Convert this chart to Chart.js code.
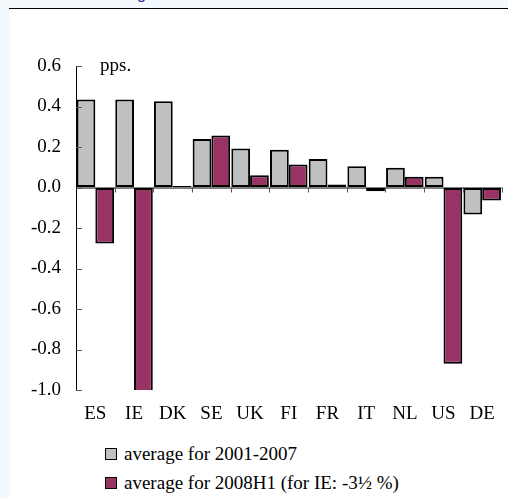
<!DOCTYPE html>
<html>
<head>
<meta charset="utf-8">
<script src="https://cdn.jsdelivr.net/npm/chart.js@4/dist/chart.umd.min.js"></script>
<style>
  html, body { margin: 0; padding: 0; }
  body { width: 508px; height: 498px; background: #f4f9fe; position: relative; overflow: hidden; }
  #topline { position: absolute; left: 9px; top: 8px; width: 499px; height: 1px; background: #000; }
  #frag { position: absolute; left: 137px; top: -15px; font: 16px "Liberation Sans", sans-serif; color: #33339a; }
  #panel { position: absolute; left: 10px; top: 9px; width: 498px; height: 489px; background: #fff; }
  #wrap { position: absolute; left: 0; top: 0; width: 498px; height: 420px; }
  #legend { position: absolute; left: 95px; top: 430px; font: 19px "Liberation Serif", serif; color: #000; }
  #legend div { height: 29px; display: flex; align-items: center; }
  #legend span.sw { display: inline-block; width: 10px; height: 10px; border: 1px solid #000; margin-right: 7px; }
</style>
</head>
<body>
<div id="frag">g</div>
<div id="topline"></div>
<div id="panel">
  <div id="wrap"><canvas id="c"></canvas></div>
  <div id="legend"></div>
</div>
<script>
const categories = ['ES','IE','DK','SE','UK','FI','FR','IT','NL','US','DE']
const avg2001_2007 = [0.434, 0.434, 0.426, 0.239, 0.193, 0.187, 0.141, 0.105, 0.097, 0.053, -0.133]
const avg2008H1    = [-0.277, -3.5, 0.008, 0.257, 0.060, 0.113, 0.015, -0.018, 0.053, -0.870, -0.064]
const yTicks = [0.6, 0.4, 0.2, 0.0, -0.2, -0.4, -0.6, -0.8, -1.0]
const seriesLabels = ['average for 2001-2007', 'average for 2008H1 (for IE: -3\u00bd %)']
const GREY = '#c0c0c0'
const PLUM = '#993366'
const FONT = { family: '"Liberation Serif", "Times New Roman", serif', size: 19 }

const axisMarks = {
  id: 'axisMarks',
  afterDatasetsDraw(chart) {
    const { ctx, chartArea, scales: { x, y } } = chart
    const y0 = y.getPixelForValue(0)
    ctx.save()
    // zero line
    ctx.strokeStyle = '#000'
    ctx.lineWidth = 1
    ctx.beginPath()
    ctx.moveTo(chartArea.left, y0 + 0.5)
    ctx.lineTo(chartArea.right, y0 + 0.5)
    ctx.stroke()
    // category ticks below zero line
    ctx.strokeStyle = '#555'
    const step = (chartArea.right - chartArea.left) / categories.length
    for (let i = 1; i <= categories.length; i++) {
      const px = Math.round(chartArea.left + step * i) + 0.5
      ctx.beginPath()
      ctx.moveTo(px, y0)
      ctx.lineTo(px, y0 + 5)
      ctx.stroke()
    }
    // value ticks inside y axis
    yTicks.forEach(v => {
      const py = Math.round(y.getPixelForValue(v)) + 0.5
      ctx.beginPath()
      ctx.moveTo(chartArea.left, py)
      ctx.lineTo(chartArea.left + 6, py)
      ctx.stroke()
    })
    // unit label
    ctx.fillStyle = '#000'
    ctx.font = FONT.size + 'px ' + FONT.family
    ctx.textBaseline = 'middle'
    ctx.fillText('pps.', chartArea.left + 24, y.getPixelForValue(0.6))
    ctx.restore()
  }
}

const chart = new Chart(document.getElementById('c'), {
  type: 'bar',
  data: {
    labels: categories,
    datasets: [
      { label: seriesLabels[0], data: avg2001_2007, backgroundColor: GREY },
      { label: seriesLabels[1], data: avg2008H1, backgroundColor: PLUM },
    ].map(ds => ({
      ...ds,
      borderColor: '#000',
      borderWidth: 2,
      borderSkipped: false,
      barPercentage: 1,
      categoryPercentage: 0.97,
    })),
  },
  options: {
    responsive: true,
    maintainAspectRatio: false,
    animation: false,
    layout: { padding: { top: 57, right: 3, left: 0, bottom: 0 } },
    plugins: { legend: { display: false }, tooltip: { enabled: false } },
    scales: {
      x: {
        grid: { display: false, drawTicks: false },
        border: { display: false },
        ticks: { font: FONT, color: '#000', padding: 13, maxRotation: 0 },
        afterFit(s) { s.height = 39 },
      },
      y: {
        min: -1.0,
        max: 0.6,
        grid: { drawOnChartArea: false, drawTicks: false },
        border: { color: '#000', width: 1 },
        ticks: {
          stepSize: 0.2,
          font: FONT,
          color: '#000',
          padding: 15,
          callback: v => Number(v).toFixed(1),
        },
        afterFit(s) { s.width = 66 },
      },
    },
  },
  plugins: [axisMarks],
})

const legend = document.getElementById('legend')
chart.data.datasets.forEach(ds => {
  const row = document.createElement('div')
  const sw = document.createElement('span')
  sw.className = 'sw'
  sw.style.background = ds.backgroundColor
  row.appendChild(sw)
  row.appendChild(document.createTextNode(ds.label))
  legend.appendChild(row)
})
</script>
</body>
</html>
